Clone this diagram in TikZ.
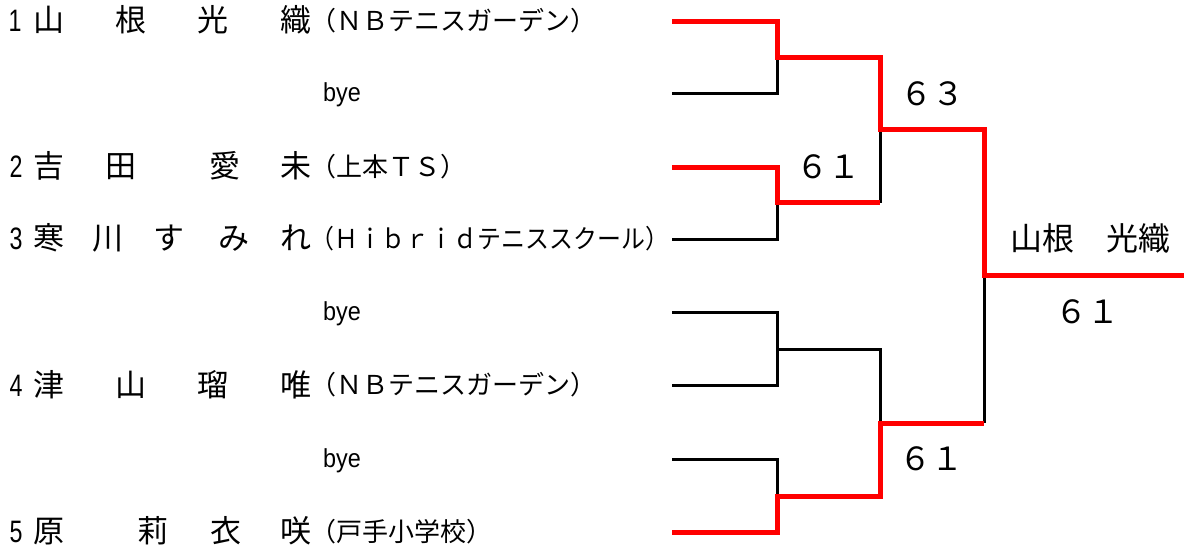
\documentclass[tikz,border=0pt]{standalone}
\usepackage{fontspec}
\usepackage{graphicx}
\newfontfamily\jp{Noto Sans CJK JP}
\newfontfamily\lat{Liberation Sans}
\tikzset{
  nm/.style={font=\jp\fontsize{31}{31}\selectfont, anchor=base, inner sep=0pt},
  sch/.style={font=\jp\fontsize{26}{26}\selectfont, anchor=base west, inner sep=0pt},
  num/.style={font=\lat\fontsize{31}{31}\selectfont, anchor=base, inner sep=0pt},
  byet/.style={font=\lat\fontsize{26}{26}\selectfont, anchor=base, inner sep=0pt},
  score/.style={font=\jp\fontsize{32}{32}\selectfont, anchor=base, inner sep=0pt},
  redl/.style={draw=red, line width=5pt},
  blkl/.style={draw=black, line width=3pt},
}
\begin{document}
\begin{tikzpicture}[x=1pt,y=-1pt]
\useasboundingbox (0,0) rectangle (1184,553);
% ---- bracket coordinates
\coordinate (e1) at (672,22);  \coordinate (c1) at (777,22);
\coordinate (e2) at (672,94);  \coordinate (c2) at (777,94);
\coordinate (e3) at (672,168); \coordinate (c3) at (777,168);
\coordinate (e4) at (672,240); \coordinate (c4) at (777,240);
\coordinate (e5) at (672,313); \coordinate (c5) at (777,313);
\coordinate (e6) at (672,386); \coordinate (c6) at (777,386);
\coordinate (e7) at (672,459); \coordinate (c7) at (777,459);
\coordinate (e8) at (672,532); \coordinate (c8) at (777,532);
\coordinate (m1) at (777,58);  \coordinate (m1r) at (880,58);
\coordinate (m2) at (777,203); \coordinate (m2r) at (880,203);
\coordinate (m3) at (777,350); \coordinate (m3r) at (880,350);
\coordinate (m4) at (777,496); \coordinate (m4r) at (880,496);
\coordinate (s1) at (880,130); \coordinate (s1r) at (984,130);
\coordinate (s2) at (880,423); \coordinate (s2r) at (984,423);
\coordinate (f) at (984,276);  \coordinate (fend) at (1184,276);
% ---- black lines
\draw[blkl] (e2) -- (c2) -- (m1);
\draw[blkl] (e4) -- (c4) -- (m2);
\draw[blkl] (m2r) -- (s1);
\draw[blkl] (e5) -- (c5) -- (c6) -- (e6);
\draw[blkl] (m3) -- (m3r) -- (s2);
\draw[blkl] (e7) -- (c7) -- (m4);
\draw[blkl] (s2r) -- (f);
% ---- red lines
\draw[redl] (e1) -- (c1) -- (m1) -- (m1r) -- (s1) -- (s1r) -- (f) -- (fend);
\draw[redl] (e3) -- (c3) -- (m2) -- (m2r);
\draw[redl] (e8) -- (c8) -- (m4) -- (m4r) -- (s2) -- (s2r);
% ---- seed numbers
\node[num] (n1) at (15,32)  {\scalebox{0.75}[1]{1}};
\node[num] (n2) at (16,178) {\scalebox{0.75}[1]{2}};
\node[num] (n3) at (16,250) {\scalebox{0.75}[1]{3}};
\node[num] (n4) at (16,396) {\scalebox{0.75}[1]{4}};
\node[num] (n5) at (16,542) {\scalebox{0.75}[1]{5}};
% ---- names
\node[nm] (a1) at (49,32) {山};  \node[nm] (a2) at (131,32) {根};
\node[nm] (a3) at (213,32) {光}; \node[nm] (a4) at (296,32) {織};
\node[nm] (b1) at (49,178) {吉};  \node[nm] (b2) at (121,178) {田};
\node[nm] (b3) at (225,178) {愛}; \node[nm] (b4) at (296,178) {未};
\node[nm] (d1) at (49,250) {寒};  \node[nm] (d2) at (108,250) {川};
\node[nm] (d3) at (169,250) {す}; \node[nm] (d4) at (234,250) {み};
\node[nm] (d5) at (296,250) {れ};
\node[nm] (g1) at (49,396) {津};  \node[nm] (g2) at (131,396) {山};
\node[nm] (g3) at (213,396) {瑠}; \node[nm] (g4) at (296,396) {唯};
\node[nm] (h1) at (49,542) {原};  \node[nm] (h2) at (153,542) {莉};
\node[nm] (h3) at (226,542) {衣}; \node[nm] (h4) at (296,542) {咲};
% ---- clubs
\node[sch] (k1) at (310,31)  {（ＮＢテニスガーデン）};
\node[sch] (k2) at (310,177) {（上本ＴＳ）};
\node[sch] (k3) at (310,249) {\scalebox{0.92}[1]{（Ｈｉｂｒｉｄテニススクール）}};
\node[sch] (k4) at (310,395) {（ＮＢテニスガーデン）};
\node[sch] (k5) at (310,541) {（戸手小学校）};
% ---- byes
\node[byet] (y1) at (342,102) {\scalebox{0.9}[1]{bye}};
\node[byet] (y2) at (342,321) {\scalebox{0.9}[1]{bye}};
\node[byet] (y3) at (342,467) {\scalebox{0.9}[1]{bye}};
% ---- scores and winner
\node[score] (sc1) at (932,106) {６３};
\node[score] (sc2) at (828,179) {６１};
\node[score] (sc3) at (931,470) {６１};
\node[score] (sc4) at (1087,324) {６１};
\node[score] (w) at (1090,251) {山根　光織};
\end{tikzpicture}
\end{document}
